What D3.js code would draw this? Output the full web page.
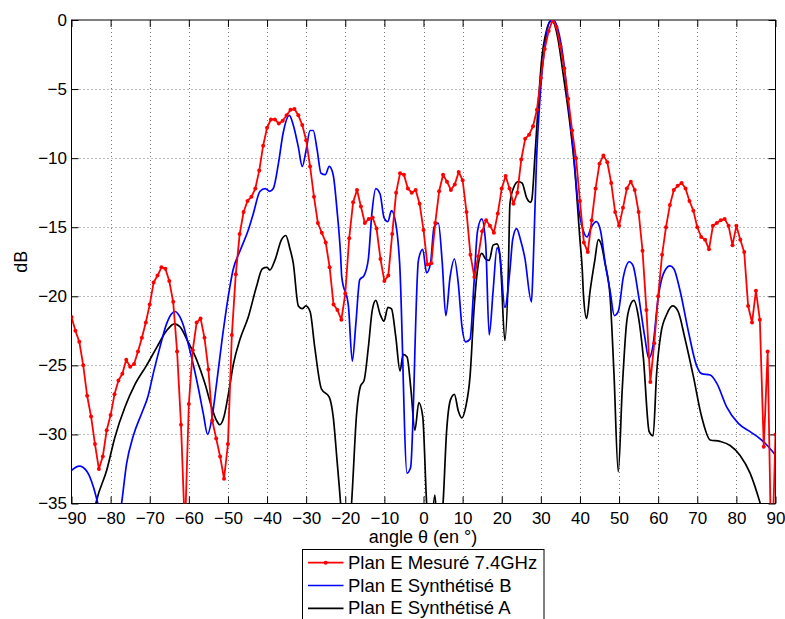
<!DOCTYPE html>
<html>
<head>
<meta charset="utf-8">
<script src="https://cdn.jsdelivr.net/npm/d3@7"></script>
<style>
  html, body { margin: 0; padding: 0; background: #fff; }
  svg { display: block; }
  text { font-family: "Liberation Sans", Arial, Helvetica, sans-serif; }
</style>
</head>
<body>
<svg id="chart" width="785" height="619"></svg>
<script>
// Measured E-plane pattern, 7.4 GHz, one sample per degree from -90° to 90°
const measuredAngles = d3.range(-90, 91, 1);
const measuredDb = [
  -21.5, -22.5, -23.3, -25.0, -27.2, -28.7, -30.7, -32.5, -31.6, -29.7,   // -90 .. -81
  -28.6, -27.1, -26.1, -25.6, -24.6, -25.1, -24.9, -24.0, -23.0, -21.9,   // -80 .. -71
  -20.6, -19.0, -18.5, -17.9, -18.0, -18.9, -20.4, -24.0, -29.3, -37.0,   // -70 .. -61
  -27.8, -23.9, -21.9, -21.6, -23.0, -25.3, -29.0, -30.3, -31.6, -33.2,   // -60 .. -51
  -30.7, -22.8, -18.4, -15.5, -13.9, -13.1, -12.8, -12.2, -10.9, -9.1,    // -50 .. -41
  -7.8, -7.2, -7.2, -7.5, -7.3, -6.9, -6.5, -6.45, -6.9, -7.6,            // -40 .. -31
  -8.7, -10.6, -12.8, -14.7, -15.4, -16.1, -17.9, -20.6, -21.0, -21.7,    // -30 .. -21
  -19.8, -15.8, -13.2, -12.3, -13.5, -14.7, -14.4, -14.3, -15.1, -17.3,   // -20 .. -11
  -18.9, -18.5, -15.5, -12.5, -11.1, -11.2, -12.2, -12.5, -12.3, -13.3,   // -10 .. -1
  -15.2,                                                                   // 0
  -17.7, -17.6, -14.7, -12.4, -11.2, -11.7, -12.3, -11.9, -11.0, -11.6,   // 1 .. 10
  -13.9, -17.0, -18.6, -17.1, -15.3, -14.5, -14.9, -15.4, -14.0, -12.2,   // 11 .. 20
  -11.3, -12.2, -13.3, -12.5, -10.1, -8.6, -8.3, -7.7, -6.5, -4.2,        // 21 .. 30
  -2.1, -0.8, 0.0, -0.5, -1.9, -3.5, -5.7, -8.0, -10.0, -13.1,            // 31 .. 40
  -16.1, -16.8, -14.5, -12.2, -10.4, -9.8, -10.3, -11.8, -13.9, -14.9,    // 41 .. 50
  -13.6, -12.2, -11.7, -12.3, -13.9, -16.7, -21.0, -26.2, -23.4, -20.0,   // 51 .. 60
  -17.0, -15.0, -13.4, -12.3, -12.0, -11.8, -12.2, -13.1, -13.8, -15.0,   // 61 .. 70
  -15.7, -15.9, -16.6, -14.9, -14.7, -14.5, -14.4, -14.9, -16.3, -14.9,   // 71 .. 80
  -15.9, -16.8, -20.7, -21.9, -19.6, -21.7, -30.9, -24.0, -40.0, -30.0    // 81 .. 90
];

// Synthesised pattern B
const synthBAngles = [
  -90, -88, -86, -84.4, -83, -82, -80, -78, -77.2, -75.9, -74.2, -72.1, -70.4, -69.1, -67.4,
  -65.7, -64.5, -63.5, -62.7, -61.4, -60.2, -58.9, -57.6, -56.3, -55.2, -54.2, -52.9, -51.2,
  -49.5, -48.7, -46.9, -44.8, -43.5, -41.8, -40.5, -39.3, -38.4, -37.1, -35.9, -34.3, -33.3,
  -32, -31, -30, -29, -28.2, -27.2, -26.2, -25.1, -24.1, -23.1, -22.1, -21.2, -20.9, -19.2,
  -18.2, -17.3, -16.3, -15.2, -14.1, -13.2, -12.2, -11.1, -10.1, -9.1, -8.2, -7.1, -6.1,
  -4.2, -3.3, -1.3, -0.2, 0.8, 1.8, 2.7, 3.8, 4.8, 5.7, 6.8, 7.9, 8.9, 9.8, 10.8, 11.9,
  12.9, 13.8, 14.9, 15.9, 16.8, 17.8, 18.8, 19.5, 20.8, 22.1, 22.8, 23.8, 24.8, 25.9, 27.6,
  28.0, 28.9, 29.8, 31.1, 32.3, 33.2, 34.4, 35.7, 36.9, 38.3, 39.5, 40.8, 41.8, 42.9, 44.2,
  45.3, 46.4, 47.7, 48.8, 49.8, 51.1, 52.6, 53.6, 54.9, 56.6, 57.6, 58.6, 60.0, 61.3, 63.0,
  64.0, 65.6, 67.7, 69.8, 71.1, 73.3, 75.0, 77.5, 80.5, 83.5, 86.0, 87.9, 90
];
const synthBDb = [
  -32.6, -32.3, -32.7, -33.8, -35.3, -36.5, -38.5, -36.5, -35.0, -32.1, -30.1, -28.5, -27.2, -25.6, -23.7,
  -22.0, -21.3, -21.1, -21.3, -22.1, -23.4, -24.9, -26.6, -28.5, -30.0, -29.0, -26.3, -22.5,
  -19.3, -18.1, -16.7, -15.2, -14.0, -12.4, -12.2, -12.4, -12.2, -10.4, -8.2, -6.9, -7.6,
  -9.2, -10.6, -9.4, -8.0, -8.0, -9.4, -11.1, -11.2, -10.6, -11.2, -13.8, -17.0, -18.6, -20.7,
  -24.7, -22.0, -18.8, -18.5, -17.3, -14.0, -12.2, -12.6, -14.3, -14.6, -13.8, -14.7, -17.6,
  -32.8, -32.4, -17.4, -16.6, -18.3, -17.6, -15.0, -14.7, -17.6, -21.4, -18.6, -17.3, -19.1, -22.1, -23.3, -23.1,
  -19.1, -15.3, -14.4, -16.2, -22.8, -19.6, -16.5, -17.0, -20.8, -18.1, -15.9, -15.1, -15.9, -17.2, -20.4,
  -18.1, -10.1, -5.6, -1.7, -0.1, 0.0, -0.7, -2.7, -5.8, -9.4, -13.3, -15.2, -15.7, -15.0, -14.6,
  -15.3, -17.5, -19.6, -21.4, -21.1, -18.6, -17.5, -17.8, -19.8, -23.0, -24.5, -23.7, -20.1, -18.4, -17.8,
  -18.0, -19.6, -22.5, -25.0, -25.6, -25.7, -26.3, -28.0, -29.2, -29.8, -30.3, -30.8, -31.5
];

// Synthesised pattern A
const synthAAngles = [
  -84.5, -83.6, -81.0, -78.9, -76.3, -73.8, -70.8, -68.2, -65.7, -63.7, -62.3, -60.2, -58.0,
  -55.9, -54.2, -52.9, -52.1, -51.0, -49.9, -48.6, -46.9, -44.8, -42.7, -41.2, -40.0, -39.3,
  -38.0, -36.3, -35.2, -34.2, -33.3, -32.0, -31.0, -30.1, -29.0, -27.8, -26.1, -24.1, -23.1,
  -22.1, -21.2, -20.5, -19.3, -18.4, -17.1, -16.1, -15.2, -14.1, -13.1, -12.2, -11.1, -10.1,
  -9.1, -8.2, -7.1, -6.0, -5.2, -4.2, -3.2, -2.2, -1.2, -0.2, 0.8, 1.6, 2.9, 3.9, 5.0, 5.9,
  6.9, 7.9, 8.9, 9.8, 10.8, 11.9, 12.9, 13.8, 14.9, 15.9, 16.8, 17.8, 18.8, 19.5, 19.8, 20.8,
  21.7, 22.1, 23.1, 24.2, 25.2, 26.4, 27.4, 27.7, 28.5, 29.3, 30.2, 31.5, 32.5, 33.3, 34.4,
  35.7, 37.3, 38.7, 40.0, 40.6, 40.9, 41.7, 42.6, 43.8, 44.7, 45.4, 46.4, 47.7, 48.7, 49.8,
  50.8, 51.9, 52.8, 53.8, 54.9, 56.2, 57.7, 58.7, 59.6, 60.7, 62.2, 63.7, 65.1, 66.8, 69.0,
  71.1, 73.3, 75.8, 78.4, 80.9, 83.5, 86.0, 88.0, 90
];
const synthADb = [
  -36.0, -34.8, -32.6, -30.2, -28.0, -26.4, -25.0, -23.7, -22.5, -22.0, -22.2, -23.3, -24.6,
  -26.3, -28.0, -29.0, -29.3, -28.7, -27.1, -24.9, -23.1, -21.5, -19.3, -18.0, -17.9, -18.1,
  -17.4, -15.9, -15.6, -16.5, -17.6, -20.7, -20.9, -20.7, -21.1, -23.7, -26.7, -27.3, -28.7,
  -31.9, -35.0, -38.0, -38.0, -35.0, -28.5, -26.5, -26.1, -23.7, -21.0, -20.3, -21.3, -21.8,
  -20.8, -20.9, -22.9, -25.4, -24.2, -24.4, -26.8, -29.7, -27.7, -28.7, -35.0, -38.0, -34.4, -38.0, -35.0, -29.8,
  -27.5, -27.1, -28.3, -28.8, -28.0, -25.8, -21.0, -18.1, -16.9, -17.3, -17.4, -16.3, -16.2, -16.9, -18.1, -23.2,
  -18.1, -13.3, -12.1, -11.7, -11.8, -12.9, -13.2, -13.0, -9.8, -6.3, -2.9, -0.7, -0.1, -0.2, -1.4,
  -3.9, -7.2, -10.9, -15.9, -18.1, -19.9, -21.6, -19.6, -17.4, -15.9, -16.2, -17.6, -20.0, -25.6, -32.7,
  -26.8, -22.0, -20.7, -20.3, -21.4, -24.4, -29.8, -30.1, -25.6, -22.7, -21.3, -20.7, -21.1, -23.0, -25.8,
  -28.7, -30.4, -30.5, -30.8, -31.5, -32.8, -34.9, -37.0, -39.0
];

const xTicks = d3.range(-90, 91, 10);
const yTicks = d3.range(-35, 1, 5);

const seriesLabels = ["Plan E Mesuré 7.4GHz", "Plan E Synthétisé B", "Plan E Synthétisé A"];
const seriesColors = ["#ff0000", "#0000ff", "#000000"];

// ---- layout ----
const plot = { left: 71.5, right: 775.5, top: 20, bottom: 503.5 };
const svg = d3.select("#chart");

const x = d3.scaleLinear().domain([-90, 90]).range([plot.left, plot.right]);
const y = d3.scaleLinear().domain([-35, 0]).range([plot.bottom, plot.top]);

svg.append("rect").attr("width", 785).attr("height", 619).attr("fill", "#fff");

svg.append("defs").append("clipPath").attr("id", "plotClip")
  .append("rect")
  .attr("x", plot.left).attr("y", plot.top)
  .attr("width", plot.right - plot.left).attr("height", plot.bottom - plot.top);

// dotted grid
const grid = svg.append("g").attr("stroke", "#7a7a7a").attr("stroke-width", 1)
  .attr("stroke-dasharray", "1,3");
grid.selectAll(".gx").data(xTicks.slice(1, -1)).join("line")
  .attr("x1", d => Math.round(x(d)) + 0.5).attr("x2", d => Math.round(x(d)) + 0.5)
  .attr("y1", plot.top).attr("y2", plot.bottom);
grid.selectAll(".gy").data(yTicks.slice(1, -1)).join("line")
  .attr("x1", plot.left).attr("x2", plot.right)
  .attr("y1", d => Math.round(y(d)) + 0.5).attr("y2", d => Math.round(y(d)) + 0.5);

// axes with inward ticks on all four sides
const tickLen = 7;
function styleAxis(g) {
  g.select(".domain").remove();
  g.selectAll("line").attr("stroke", "#000");
  g.selectAll("text").attr("font-size", 17).attr("fill", "#000")
    .attr("font-family", "'Liberation Sans', Arial, sans-serif");
}
svg.append("g").attr("transform", `translate(0,${plot.bottom})`)
  .call(d3.axisBottom(x).tickValues(xTicks).tickSizeInner(-tickLen).tickSizeOuter(0).tickPadding(8.5))
  .call(styleAxis);
svg.append("g").attr("transform", `translate(0,${plot.top})`)
  .call(d3.axisTop(x).tickValues(xTicks).tickSizeInner(-tickLen).tickSizeOuter(0).tickFormat(""))
  .call(styleAxis);
svg.append("g").attr("transform", `translate(${plot.left},0)`)
  .call(d3.axisLeft(y).tickValues(yTicks).tickSizeInner(-tickLen).tickSizeOuter(0).tickPadding(4.5))
  .call(styleAxis);
svg.append("g").attr("transform", `translate(${plot.right},0)`)
  .call(d3.axisRight(y).tickValues(yTicks).tickSizeInner(-tickLen).tickSizeOuter(0).tickFormat(""))
  .call(styleAxis);

// axes box
svg.append("rect")
  .attr("x", plot.left).attr("y", plot.top)
  .attr("width", plot.right - plot.left).attr("height", plot.bottom - plot.top)
  .attr("fill", "none").attr("stroke", "#000").attr("stroke-width", 1);

// axis titles
svg.append("text").attr("x", (plot.left + plot.right) / 2 - 0.5).attr("y", 542.5)
  .attr("text-anchor", "middle").attr("font-size", 18).text("angle θ (en °)");
svg.append("text").attr("transform", `translate(27,${(plot.top + plot.bottom) / 2}) rotate(-90)`)
  .attr("text-anchor", "middle").attr("font-size", 18).text("dB");

// curves
const lines = svg.append("g").attr("clip-path", "url(#plotClip)");
const lineGen = d3.line().x(d => x(d[0])).y(d => y(d[1]));
const smoothGen = d3.line().x(d => x(d[0])).y(d => y(d[1])).curve(d3.curveMonotoneX);

const seriesA = d3.zip(synthAAngles, synthADb);
const seriesB = d3.zip(synthBAngles, synthBDb);
const seriesM = d3.zip(measuredAngles, measuredDb);

lines.append("path").datum(seriesA).attr("d", smoothGen)
  .attr("fill", "none").attr("stroke", seriesColors[2]).attr("stroke-width", 1.7)
  .attr("stroke-linejoin", "round");
lines.append("path").datum(seriesB).attr("d", smoothGen)
  .attr("fill", "none").attr("stroke", seriesColors[1]).attr("stroke-width", 1.7)
  .attr("stroke-linejoin", "round");
lines.append("path").datum(seriesM).attr("d", lineGen)
  .attr("fill", "none").attr("stroke", seriesColors[0]).attr("stroke-width", 1.8)
  .attr("stroke-linejoin", "round");
lines.selectAll(".dot").data(seriesM).join("circle")
  .attr("cx", d => x(d[0])).attr("cy", d => y(d[1])).attr("r", 2)
  .attr("fill", seriesColors[0]);

// legend
const legend = svg.append("g");
legend.append("rect").attr("x", 302.5).attr("y", 549.5).attr("width", 241.5).attr("height", 80)
  .attr("fill", "#fff").attr("stroke", "#000").attr("stroke-width", 1);
seriesLabels.forEach((label, i) => {
  const ly = 562.7 + i * 22.8;
  legend.append("line").attr("x1", 308).attr("x2", 343.5).attr("y1", ly).attr("y2", ly)
    .attr("stroke", seriesColors[i]).attr("stroke-width", 1.7);
  if (i === 0) {
    legend.append("circle").attr("cx", 325.7).attr("cy", ly).attr("r", 2).attr("fill", seriesColors[0]);
  }
  legend.append("text").attr("x", 348).attr("y", ly + 6).attr("font-size", 18.5).text(label);
});
</script>
</body>
</html>
